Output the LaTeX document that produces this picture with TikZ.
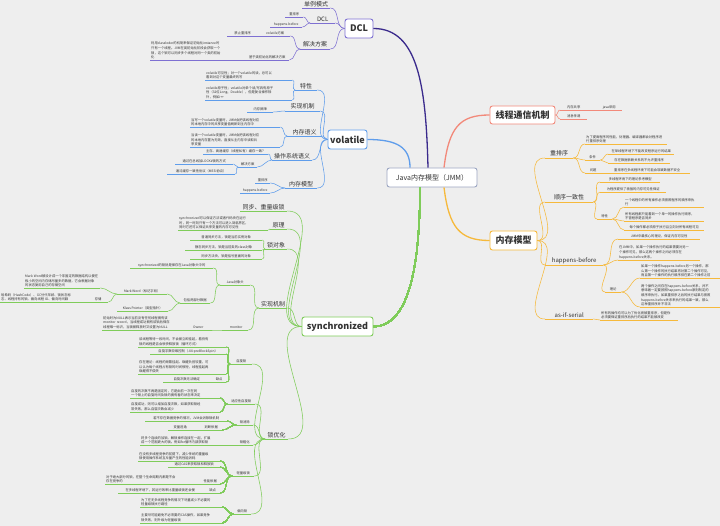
\documentclass[tikz,border=0pt]{standalone}
\usepackage{fontspec}
\setmainfont{Noto Sans CJK SC}
\definecolor{bgc}{HTML}{EEEEEE}
\definecolor{tc}{HTML}{333333}
\definecolor{dclmain}{HTML}{3A2A8C}
\definecolor{dclc}{HTML}{7E70D2}
\definecolor{volc}{HTML}{5F9DEB}
\definecolor{sync}{HTML}{7FCC5A}
\definecolor{comc}{HTML}{F2897A}
\definecolor{memc}{HTML}{F6B93B}
\definecolor{jmmc}{HTML}{9CA6C2}
\colorlet{bc}{black}
\tikzset{
  ul/.style={append after command={(\tikzlastnode.south west) edge[draw=bc,line width=0.55pt] (\tikzlastnode.south east)}},
  tn/.style={font=\fontsize{3.3}{4.6}\selectfont, inner xsep=1pt, inner ysep=0.9pt, text=tc, ul},
  mn/.style={font=\fontsize{6}{7}\selectfont, inner xsep=1pt, inner ysep=1.3pt, text=tc, ul},
  lu/.style n args={3}{anchor=south west, at={(#1,#2)}, minimum width=#3pt},
  bu/.style n args={3}{anchor=south west, at={(#1,#2)}, text width=#3pt, align=left},
  cn/.style={draw=bc, line width=0.55pt},
  mainln/.style={line width=1.3pt},
  box/.style={draw=bc, fill=white, rounded corners=2.5pt, line width=0.9pt, font=\bfseries\fontsize{9}{10}\selectfont, text=tc, minimum height=19pt, inner sep=0pt},
}
\newcommand\conL[2]{\draw[cn] (#1.south west) to[out=180,in=0] (#2.south east);}
\newcommand\conR[2]{\draw[cn] (#1.south east) to[out=0,in=180] (#2.south west);}
\begin{document}
\begin{tikzpicture}[x=1pt,y=-1pt]
\fill[bgc] (0,0) rectangle (720,526);
\useasboundingbox (0,0) rectangle (720,526);
\node[box, draw=jmmc, font=\fontsize{7}{8}\selectfont, minimum width=90pt] (jmm) at (432,177.5) {Java内存模型（JMM）};

% ---------------- DCL ----------------
\begin{scope}
\colorlet{bc}{dclc}
\node[box, minimum width=28pt] (dcl) at (359,28.5) {DCL};
\node[mn, lu={302}{8}{28}] (d1) {单例模式};
\node[mn, lu={310}{23}{25}] (d2) {DCL};
\node[tn, lu={285}{17}{18}] (d21) {重排序};
\node[tn, lu={270}{27}{32}] (d22) {happens-before};
\node[mn, lu={300}{49}{30}] (d3) {解决方案};
\node[tn, lu={260}{36}{30}] (d31) {volatile方案};
\node[tn, lu={227}{36}{31}] (d311) {禁止重排序};
\node[tn, lu={245}{60}{44}] (d32) {基于类初始化的解决方案};
\node[tn, bu={150}{60}{93}] (d321) {利用classloder的机制来保证初始化instance时\\只有一个线程。JVM在类初始化阶段会获取一个\\锁，这个锁可以同步多个线程对同一个类的初始\\化};
\foreach \c in {d1,d2,d3} \draw[cn] (dcl.west) to[out=180,in=0] (\c.south east);
\conL{d2}{d21} \conL{d2}{d22}
\conL{d3}{d31} \conL{d3}{d32}
\conL{d31}{d311} \conL{d32}{d321}
\end{scope}
\draw[dclmain, mainln] (dcl.east) .. controls +(45,0) and +(-2,-80) .. ([xshift=-4pt]jmm.north);

% ---------------- volatile ----------------
\begin{scope}
\colorlet{bc}{volc}
\node[box, minimum width=39pt] (vol) at (347.5,139.5) {volatile};
\node[mn, lu={295}{90}{22}] (v1) {特性};
\node[tn, bu={205}{80}{85}] (v11) {volatile可见性；对一个volatile的读，总可以\\看到对这个变量最终的写};
\node[tn, bu={205}{100}{85}] (v12) {volatile原子性；volatile对单个读/写具有原子\\性（32位Long、Double），但是复合操作除\\外，例如i++};
\node[mn, lu={285}{111}{35}] (v2) {实现机制};
\node[tn, lu={247}{112}{26}] (v21) {内存屏障};
\node[mn, lu={287}{136}{35}] (v3) {内存语义};
\node[tn, bu={190}{127}{88}] (v31) {当写一个volatile变量时，JMM会把该线程对应\\的本地内存中的共享变量值刷新到主内存中};
\node[tn, bu={190}{147}{88}] (v32) {当读一个volatile变量时，JMM会把该线程对应\\的本地内存置为无效，直接从主内存中读取共\\享变量};
\node[mn, lu={272}{160}{40}] (v4) {操作系统语义};
\node[tn, lu={203}{154}{65}] (v41) {主存、高速缓存（线程私有）缓存一致？};
\node[tn, lu={238}{167}{19}] (v42) {解决方案};
\node[tn, lu={175}{164}{58}] (v421) {通过在总线加LOCK\#锁的方式};
\node[tn, lu={167}{174}{68}] (v422) {通过缓存一致性协议（MESI协议）};
\node[mn, lu={285}{188}{32}] (v5) {内存模型};
\node[tn, lu={255}{183}{15}] (v51) {重排序};
\node[tn, lu={240}{193}{30}] (v52) {happens-before};
\foreach \c in {v1,v2,v3,v4,v5} \draw[cn] (vol.west) to[out=180,in=0] (\c.south east);
\conL{v1}{v11} \conL{v1}{v12}
\conL{v2}{v21}
\conL{v3}{v31} \conL{v3}{v32}
\conL{v4}{v41} \conL{v4}{v42}
\conL{v42}{v421} \conL{v42}{v422}
\conL{v5}{v51} \conL{v5}{v52}
\draw[cn, mainln] (vol.east) .. controls +(30,0) and +(0,-20) .. ([xshift=-22pt]jmm.north);
\end{scope}

% ---------------- synchronized ----------------
\begin{scope}
\colorlet{bc}{sync}
\node[box, minimum width=71pt] (syn) at (337.5,326.5) {synchronized};
\node[mn, lu={240}{211}{47}] (s1) {同步、重量级锁};
\node[mn, lu={270}{229}{17}] (s2) {原理};
\node[tn, bu={178}{230}{88}] (s21) {synchronized可以保证方法或者代码块在运行\\时，同一时刻只有一个方法可以进入到临界区，\\同时它还可以保证共享变量的内存可见性};
\node[mn, lu={265}{249}{22}] (s3) {锁对象};
\node[tn, lu={190}{240}{72}] (s31) {普通同步方法，锁是当前实例对象};
\node[tn, lu={185}{250}{77}] (s32) {静态同步方法，锁是当前类的class对象};
\node[tn, lu={190}{259}{72}] (s33) {同步方法块，锁是括号里面的对象};
\node[mn, lu={259}{308}{28}] (s4) {实现机制};
\node[tn, lu={220}{285}{30}] (s41) {Java对象头};
\node[tn, lu={130}{268}{83}] (s411) {synchronized的锁就是保存在Java对象头中的};
\node[tn, lu={180}{303}{30}] (s412) {包括两部分数据};
\node[tn, lu={117}{294}{50}] (s4121) {Mark Word（标记字段）};
\node[tn, bu={24}{288}{74}] (s41211) {Mark Word被设计成一个非固定的数据结构以便在\\极小的空间内存储尽量多的数据，它会根据对象\\的状态复用自己的存储空间};
\node[tn, lu={88}{302}{20}] (s41212) {存储};
\node[tn, bu={0}{302}{83}] (s412121) {哈希码（HashCode）、GC分代年龄、锁状态标\\志、线程持有的锁、偏向线程 ID、偏向时间戳};
\node[tn, lu={117}{311}{51}] (s4122) {Klass Pointer（类型指针）};
\node[tn, lu={224}{330}{24}] (s42) {monitor};
\node[tn, lu={186}{330}{24}] (s421) {Owner};
\node[tn, bu={102}{330}{82}] (s4211) {初始时为NULL表示当前没有任何线程拥有该\\monitor record，当线程成功拥有该锁后保存\\线程唯一标识，当锁被释放时又设置为NULL};
\node[mn, lu={265}{439}{23}] (s5) {锁优化};
\node[tn, lu={230}{364}{22}] (s51) {自旋锁};
\node[tn, bu={138}{347}{86}] (s511) {该线程等待一段时间，不会被立即挂起，看持有\\锁的线程是否会很快释放锁（循环方式）};
\node[tn, lu={150}{354}{76}] (s512) {自旋字数较难控制（-XX:preBlockSpin）};
\node[tn, bu={138}{374}{86}] (s513) {存在理论：线程的频繁挂起、唤醒负担较重，可\\以认为每个线程占有锁的时间很短，线程挂起再\\唤醒得不偿失};
\node[tn, lu={212}{382}{14}] (s514) {缺点};
\node[tn, lu={163}{382}{47}] (s5141) {自旋次数无法确定};
\node[tn, lu={227}{404}{28}] (s52) {适应性自旋锁};
\node[tn, bu={130}{398}{88}] (s521) {自旋的次数不再是固定的，它是由前一次在同\\一个锁上的自旋时间及锁的拥有者的状态来决定};
\node[tn, bu={130}{412}{88}] (s522) {自旋成功，则可以增加自旋次数，如果获取锁经\\常失败，那么自旋次数会减少};
\node[tn, lu={236}{425}{17}] (s53) {锁消除};
\node[tn, lu={145}{421}{82}] (s531) {若不存在数据竞争的情况，JVM会消除锁机制};
\node[tn, lu={200}{430}{22}] (s532) {判断依据};
\node[tn, lu={168}{430}{24}] (s5321) {变量逃逸};
\node[tn, lu={236}{445}{17}] (s54) {锁粗化};
\node[tn, bu={140}{445}{86}] (s541) {将多个连续的加锁、解锁操作连接在一起，扩展\\成一个范围更大的锁。例如for循环内部获取锁};
\node[tn, lu={232}{476}{22}] (s55) {轻量级锁};
\node[tn, bu={138}{461}{80}] (s551) {在没有多线程竞争的前提下，减少传统的重量级\\锁使用操作系统互斥量产生的性能消耗};
\node[tn, lu={168}{467}{52}] (s552) {通过CAS来获取锁和释放锁};
\node[tn, lu={200}{484}{20}] (s553) {性能依据};
\node[tn, bu={105}{484}{90}] (s5531) {对于绝大部分的锁，在整个生命周期内都是不会\\存在竞争的};
\node[tn, lu={205}{493}{15}] (s554) {缺点};
\node[tn, lu={118}{493}{84}] (s5541) {在多线程环境下，其运行效率比重量级锁还会慢};
\node[tn, lu={233}{514}{18}] (s56) {偏向锁};
\node[tn, bu={140}{507}{80}] (s561) {为了在无多线程竞争的情况下尽量减少不必要的\\轻量级锁执行路径};
\node[tn, bu={140}{523}{80}] (s562) {主要尽可能避免不必须要的CAS操作，如果竞争\\锁失败，则升级为轻量级锁};
\foreach \c in {s1,s2,s3,s4,s5} \draw[cn] (syn.west) to[out=180,in=0] (\c.south east);
\conL{s2}{s21}
\conL{s3}{s31} \conL{s3}{s32} \conL{s3}{s33}
\conL{s4}{s41} \conL{s4}{s42}
\conL{s41}{s411} \conL{s41}{s412}
\conL{s412}{s4121} \conL{s412}{s4122}
\conL{s4121}{s41211} \conL{s4121}{s41212}
\conL{s41212}{s412121}
\conL{s42}{s421} \conL{s421}{s4211}
\foreach \c in {s51,s52,s53,s54,s55,s56} \conL{s5}{\c}
\foreach \c in {s511,s512,s513,s514} \conL{s51}{\c}
\conL{s514}{s5141}
\conL{s52}{s521} \conL{s52}{s522}
\conL{s53}{s531} \conL{s53}{s532} \conL{s532}{s5321}
\conL{s54}{s541}
\foreach \c in {s551,s552,s553,s554} \conL{s55}{\c}
\conL{s553}{s5531} \conL{s554}{s5541}
\conL{s56}{s561} \conL{s56}{s562}
\draw[cn, mainln] (syn.east) .. controls +(35,0) and +(0,80) .. ([xshift=-12pt]jmm.south);
\end{scope}

% ---------------- 线程通信机制 ----------------
\begin{scope}
\colorlet{bc}{comc}
\node[box, minimum width=65pt, minimum height=18pt] (com) at (522.5,115) {线程通信机制};
\node[tn, lu={560}{110}{27}] (c1) {内存共享};
\node[tn, lu={596}{110}{26}] (c11) {java采用};
\node[tn, lu={560}{119}{27}] (c2) {消息传递};
\foreach \c in {c1,c2} \draw[cn] (com.east) to[out=0,in=180] (\c.south west);
\conR{c1}{c11}
\draw[cn, mainln] ([xshift=12pt]jmm.north) .. controls +(5,-40) and +(-30,0) .. (com.west);
\end{scope}

% ---------------- 内存模型 ----------------
\begin{scope}
\colorlet{bc}{memc}
\node[box, minimum width=47pt] (mem) at (513.5,240.5) {内存模型};
\node[mn, lu={545}{158}{28}] (m1) {重排序};
\node[tn, bu={585}{144}{80}] (m11) {为了提高程序的性能，处理器、编译器都会对程序进\\行重排序处理};
\node[tn, lu={585}{160}{15}] (m12) {条件};
\node[tn, lu={608}{154}{66}] (m121) {在单线程环境下不能改变程序运行的结果};
\node[tn, lu={608}{163}{62}] (m122) {存在数据依赖关系的不允许重排序};
\node[tn, lu={585}{173}{16}] (m13) {问题};
\node[tn, lu={604}{173}{86}] (m131) {重排序在多线程环境下可能会导致数据不安全};
\node[mn, lu={545}{202}{48}] (m2) {顺序一致性};
\node[tn, lu={600}{182}{60}] (m21) {多线程环境下的理论参考模型};
\node[tn, lu={600}{192}{66}] (m22) {为程序提供了极强的内存可见性保证};
\node[tn, lu={597}{219}{15}] (m23) {特性};
\node[tn, bu={624}{207}{78}] (m231) {一个线程中的所有操作必须按照程序的顺序来执\\行};
\node[tn, bu={624}{221}{78}] (m232) {所有线程都只能看到一个单一的操作执行顺序，\\不管程序是否同步};
\node[tn, lu={624}{230}{80}] (m233) {每个操作都必须原子执行且立刻对所有线程可见};
\node[mn, lu={545}{265}{58}] (m3) {happens-before};
\node[tn, lu={618}{239}{82}] (m31) {JMM中最核心的理论，保证内存可见性};
\node[tn, bu={618}{260}{80}] (m32) {在JMM中，如果一个操作执行的结果需要对另一\\个操作可见，那么这两个操作之间必须存在\\happens-before关系。};
\node[tn, lu={605}{292}{16}] (m33) {理论};
\node[tn, bu={640}{278}{78}] (m331) {如果一个操作happens-before另一个操作，那\\么第一个操作的执行结果将对第二个操作可见，\\而且第一个操作的执行顺序排在第二个操作之前};
\node[tn, bu={640}{307}{78}] (m332) {两个操作之间存在happens-before关系，并不\\意味着一定要按照happens-before原则制定的\\顺序来执行。如果重排序之后的执行结果与按照\\happens-before关系来执行的结果一致，那么\\这种重排序并不非法};
\node[mn, lu={545}{319}{48}] (m4) {as-if-serial};
\node[tn, bu={600}{320}{76}] (m41) {所有的操作均可以为了优化而被重排序，但是你\\必须要保证重排序后执行的结果不能被改变};
\foreach \c in {m1,m2,m3,m4} \draw[cn] (mem.east) to[out=0,in=180] (\c.south west);
\conR{m1}{m11} \conR{m1}{m12} \conR{m1}{m13}
\conR{m12}{m121} \conR{m12}{m122} \conR{m13}{m131}
\conR{m2}{m21} \conR{m2}{m22} \conR{m2}{m23}
\conR{m23}{m231} \conR{m23}{m232} \conR{m23}{m233}
\conR{m3}{m31} \conR{m3}{m32} \conR{m3}{m33}
\conR{m33}{m331} \conR{m33}{m332}
\conR{m4}{m41}
\draw[cn, mainln] ([xshift=12pt]jmm.south) .. controls +(5,40) and +(-30,0) .. (mem.west);
\end{scope}
\end{tikzpicture}
\end{document}
